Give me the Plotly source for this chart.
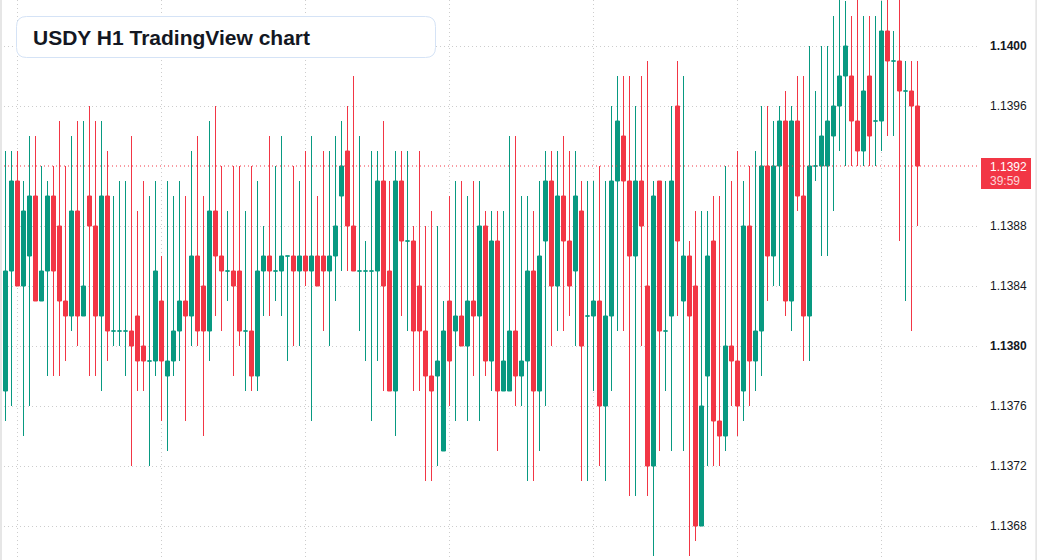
import plotly.graph_objects as go

# ---------------- data (USDY H1) ----------------
open_ = [1.1377, 1.1385, 1.1391, 1.1384, 1.1386, 1.1390, 1.1383, 1.1385, 1.1390, 1.1388,
         1.1383, 1.1382, 1.1389, 1.1382, 1.1390, 1.1388, 1.1382, 1.1390, 1.1381, 1.1381,
         1.1381, 1.1381, 1.1382, 1.1380, 1.1379, 1.1379, 1.1383, 1.1378, 1.1379, 1.1381,
         1.1383, 1.1382, 1.1386, 1.1384, 1.1381, 1.1389, 1.1386, 1.1385, 1.1385, 1.1385,
         1.1381, 1.1381, 1.1378, 1.1385, 1.1386, 1.1385, 1.1385, 1.1386, 1.1386, 1.1385,
         1.1386, 1.1385, 1.1386, 1.1386, 1.1385, 1.1386, 1.1390, 1.1393, 1.1388, 1.1385,
         1.1385, 1.1385, 1.1385, 1.1391, 1.1385, 1.1377, 1.1391, 1.1387, 1.1387, 1.1384,
         1.1381, 1.1378, 1.1378, 1.1373, 1.1383, 1.1381, 1.1382, 1.1380, 1.1383, 1.1382,
         1.1388, 1.1379, 1.1387, 1.1377, 1.1377, 1.1381, 1.1378, 1.1379, 1.1385, 1.1377,
         1.1387, 1.1391, 1.1384, 1.1390, 1.1387, 1.1385, 1.1389, 1.1382, 1.1382, 1.1383,
         1.1376, 1.1382, 1.1391, 1.1394, 1.1391, 1.1386, 1.1391, 1.1384, 1.1372, 1.1391,
         1.1381, 1.1382, 1.1396, 1.1383, 1.1386, 1.1384, 1.1368, 1.1378, 1.1387, 1.1375,
         1.1374, 1.1380, 1.1379, 1.1377, 1.1388, 1.1379, 1.1381, 1.1392, 1.1386, 1.1392,
         1.1395, 1.1383, 1.1395, 1.1390, 1.1382, 1.1392, 1.1392, 1.1392, 1.1394, 1.1396,
         1.1398, 1.1398, 1.1395, 1.1393, 1.1398, 1.1395, 1.1395, 1.1401, 1.1399, 1.1399,
         1.1397, 1.1397, 1.1396]

high = [1.1393, 1.1393, 1.1393, 1.1391, 1.1394, 1.1394, 1.1392, 1.1391, 1.1392, 1.1395,
        1.1392, 1.1394, 1.1395, 1.1395, 1.1396, 1.1395, 1.1395, 1.1393, 1.1390, 1.1391,
        1.1391, 1.1394, 1.1389, 1.1391, 1.1390, 1.1391, 1.1386, 1.1391, 1.1390, 1.1391,
        1.1390, 1.1393, 1.1394, 1.1390, 1.1395, 1.1396, 1.1392, 1.1389, 1.1392, 1.1392,
        1.1389, 1.1392, 1.1391, 1.1388, 1.1394, 1.1392, 1.1394, 1.1386, 1.1392, 1.1391,
        1.1393, 1.1394, 1.1390, 1.1393, 1.1393, 1.1394, 1.1395, 1.1396, 1.1398, 1.1394,
        1.1387, 1.1393, 1.1393, 1.1395, 1.1391, 1.1393, 1.1393, 1.1393, 1.1388, 1.1393,
        1.1388, 1.1389, 1.1388, 1.1383, 1.1390, 1.1391, 1.1391, 1.1390, 1.1391, 1.1391,
        1.1389, 1.1389, 1.1389, 1.1389, 1.1394, 1.1394, 1.1390, 1.1390, 1.1389, 1.1391,
        1.1393, 1.1393, 1.1393, 1.1394, 1.1393, 1.1393, 1.1391, 1.1391, 1.1391, 1.1392,
        1.1391, 1.1396, 1.1398, 1.1398, 1.1398, 1.1396, 1.1398, 1.1399, 1.1391, 1.1391,
        1.1391, 1.1396, 1.1399, 1.1398, 1.1387, 1.1389, 1.1389, 1.1389, 1.1390, 1.1390,
        1.1392, 1.1391, 1.1393, 1.1391, 1.1392, 1.1393, 1.1396, 1.1396, 1.1395, 1.1396,
        1.1397, 1.1396, 1.1398, 1.1398, 1.1400, 1.1397, 1.1400, 1.1400, 1.1402, 1.1404,
        1.1403, 1.1402, 1.1404, 1.1402, 1.1402, 1.1402, 1.1403, 1.1404, 1.1401, 1.1404,
        1.1399, 1.1399, 1.1399]

low = [1.1375, 1.1376, 1.1384, 1.1374, 1.1376, 1.1383, 1.1383, 1.1378, 1.1378, 1.1378,
       1.1379, 1.1381, 1.1380, 1.1382, 1.1378, 1.1378, 1.1377, 1.1379, 1.1380, 1.1380,
       1.1378, 1.1372, 1.1377, 1.1377, 1.1372, 1.1378, 1.1375, 1.1373, 1.1378, 1.1379,
       1.1375, 1.1380, 1.1380, 1.1374, 1.1379, 1.1382, 1.1381, 1.1383, 1.1378, 1.1380,
       1.1377, 1.1377, 1.1377, 1.1382, 1.1382, 1.1383, 1.1382, 1.1379, 1.1380, 1.1380,
       1.1384, 1.1375, 1.1384, 1.1381, 1.1380, 1.1383, 1.1385, 1.1385, 1.1385, 1.1381,
       1.1379, 1.1375, 1.1379, 1.1377, 1.1377, 1.1374, 1.1382, 1.1381, 1.1377, 1.1377,
       1.1371, 1.1371, 1.1372, 1.1373, 1.1376, 1.1375, 1.1380, 1.1375, 1.1378, 1.1375,
       1.1378, 1.1377, 1.1373, 1.1377, 1.1377, 1.1376, 1.1376, 1.1371, 1.1371, 1.1373,
       1.1376, 1.1380, 1.1381, 1.1381, 1.1382, 1.1380, 1.1371, 1.1371, 1.1377, 1.1372,
       1.1371, 1.1377, 1.1381, 1.1381, 1.1370, 1.1370, 1.1380, 1.1370, 1.1366, 1.1373,
       1.1377, 1.1373, 1.1382, 1.1373, 1.1366, 1.1367, 1.1368, 1.1372, 1.1372, 1.1372,
       1.1373, 1.1376, 1.1374, 1.1375, 1.1376, 1.1377, 1.1378, 1.1383, 1.1384, 1.1384,
       1.1382, 1.1381, 1.1389, 1.1379, 1.1379, 1.1391, 1.1386, 1.1386, 1.1389, 1.1393,
       1.1392, 1.1392, 1.1392, 1.1392, 1.1392, 1.1392, 1.1393, 1.1394, 1.1394, 1.1387,
       1.1383, 1.1381, 1.1388]

close = [1.1385, 1.1391, 1.1384, 1.1389, 1.1390, 1.1383, 1.1385, 1.1390, 1.1385, 1.1383,
         1.1382, 1.1389, 1.1382, 1.1384, 1.1388, 1.1382, 1.1390, 1.1381, 1.1381, 1.1381,
         1.1381, 1.1380, 1.1379, 1.1379, 1.1379, 1.1385, 1.1379, 1.1379, 1.1381, 1.1383,
         1.1382, 1.1386, 1.1381, 1.1381, 1.1389, 1.1386, 1.1385, 1.1385, 1.1384, 1.1381,
         1.1381, 1.1378, 1.1385, 1.1386, 1.1385, 1.1385, 1.1386, 1.1386, 1.1385, 1.1386,
         1.1385, 1.1386, 1.1384, 1.1385, 1.1386, 1.1388, 1.1392, 1.1388, 1.1385, 1.1385,
         1.1385, 1.1385, 1.1391, 1.1384, 1.1377, 1.1391, 1.1387, 1.1387, 1.1381, 1.1381,
         1.1378, 1.1377, 1.1379, 1.1381, 1.1379, 1.1382, 1.1380, 1.1383, 1.1382, 1.1388,
         1.1379, 1.1387, 1.1377, 1.1379, 1.1381, 1.1378, 1.1379, 1.1385, 1.1377, 1.1386,
         1.1391, 1.1384, 1.1390, 1.1387, 1.1384, 1.1390, 1.1380, 1.1382, 1.1383, 1.1376,
         1.1382, 1.1391, 1.1395, 1.1391, 1.1386, 1.1391, 1.1388, 1.1372, 1.1390, 1.1381,
         1.1381, 1.1391, 1.1387, 1.1386, 1.1382, 1.1368, 1.1376, 1.1386, 1.1375, 1.1374,
         1.1380, 1.1379, 1.1376, 1.1388, 1.1379, 1.1381, 1.1392, 1.1386, 1.1392, 1.1395,
         1.1383, 1.1395, 1.1390, 1.1382, 1.1392, 1.1392, 1.1394, 1.1395, 1.1396, 1.1398,
         1.1400, 1.1395, 1.1393, 1.1397, 1.1394, 1.1395, 1.1401, 1.1399, 1.1399, 1.1397,
         1.1397, 1.1396, 1.1392]

price_ticks = [1.1368, 1.1372, 1.1376, 1.1380, 1.1384, 1.1388, 1.1396, 1.1400]
bold_ticks = [1.1380, 1.1400]
day_starts = [2, 26, 50, 74, 98, 122, 146]
last_price = close[-1]
countdown = "39:59"
title_text = "USDY H1 TradingView chart"

# ---------------- styling ----------------
GREEN = "#089981"
RED = "#f23645"
GRID = "#cdcdcd"
TEXT = "#131722"
W, H = 1037, 560
MR = 57
PW = W - MR  # plot width in px


def px(x):
    return x / PW


def py(y):
    return 1 - y / H


idx = list(range(len(close)))
up = [i for i in idx if close[i] >= open_[i]]
dn = [i for i in idx if close[i] < open_[i]]

fig = go.Figure()
for sel, col in ((up, GREEN), (dn, RED)):
    fig.add_trace(go.Candlestick(
        x=sel,
        open=[open_[i] for i in sel],
        high=[high[i] for i in sel],
        low=[low[i] for i in sel],
        close=[close[i] for i in sel],
        increasing=dict(line=dict(color=col, width=1), fillcolor=col),
        decreasing=dict(line=dict(color=col, width=1), fillcolor=col),
        whiskerwidth=0,
        showlegend=False,
        hoverinfo="skip",
    ))

# rounded title box
x0, x1, y0, y1, r = 16.5, 435.5, 16.5, 57.5, 10
path = (f"M {px(x0 + r)},{py(y0)} L {px(x1 - r)},{py(y0)} Q {px(x1)},{py(y0)} {px(x1)},{py(y0 + r)} "
        f"L {px(x1)},{py(y1 - r)} Q {px(x1)},{py(y1)} {px(x1 - r)},{py(y1)} "
        f"L {px(x0 + r)},{py(y1)} Q {px(x0)},{py(y1)} {px(x0)},{py(y1 - r)} "
        f"L {px(x0)},{py(y0 + r)} Q {px(x0)},{py(y0)} {px(x0 + r)},{py(y0)} Z")

shapes = [
    # current price dotted line
    dict(type="line", xref="paper", yref="y", x0=0, x1=1, y0=last_price, y1=last_price,
         line=dict(color=RED, width=1, dash="1px,3px"), layer="above"),
    # price label box
    dict(type="rect", xref="paper", yref="paper", x0=px(981), x1=px(1031), y0=py(189), y1=py(158),
         fillcolor=RED, line=dict(width=0), layer="above"),
    # title box
    dict(type="path", xref="paper", yref="paper", path=path, fillcolor="white",
         line=dict(color="#d5e3f6", width=1), layer="above"),
    # left / right page borders
    dict(type="rect", xref="paper", yref="paper", x0=px(0), x1=px(2), y0=0, y1=1,
         fillcolor="#e6e6e6", line=dict(width=0), layer="above"),
    dict(type="rect", xref="paper", yref="paper", x0=px(1035.3), x1=px(1037), y0=0, y1=1,
         fillcolor="#e6e6e6", line=dict(width=0), layer="above"),
]

annotations = [
    dict(xref="paper", yref="paper", x=px(31), y=py(37.5), xanchor="left", yanchor="middle",
         text=f"<b>{title_text}</b>", showarrow=False,
         font=dict(family="Liberation Sans, Arial, sans-serif", size=21, color=TEXT)),
    dict(xref="paper", yref="paper", x=px(988), y=py(167), xanchor="left", yanchor="middle",
         text=f"{last_price:.4f}", showarrow=False,
         font=dict(family="Liberation Sans, Arial, sans-serif", size=12, color="white")),
    dict(xref="paper", yref="paper", x=px(988), y=py(181), xanchor="left", yanchor="middle",
         text=countdown, showarrow=False,
         font=dict(family="Liberation Sans, Arial, sans-serif", size=12, color="rgba(255,255,255,0.8)")),
]

ticktext = [f"<b>{v:.4f}</b>" if any(abs(v - b) < 1e-9 for b in bold_ticks) else f"{v:.4f}"
            for v in price_ticks]

x_lo = -5.5 / 6
x_hi = (PW - 5.5) / 6
y_top = 1.1400 + 46 / 15 * 0.0001
y_bot = y_top - H / 15 * 0.0001

fig.update_layout(
    width=W, height=H,
    margin=dict(l=0, r=MR, t=0, b=0, pad=0),
    paper_bgcolor="white", plot_bgcolor="white",
    boxgap=1 / 3, boxgroupgap=0,
    shapes=shapes, annotations=annotations,
    xaxis=dict(range=[x_lo, x_hi], tickvals=day_starts, showticklabels=False, ticks="",
               showgrid=True, gridcolor=GRID, griddash="1px,3px", gridwidth=1,
               zeroline=False, showline=False, rangeslider=dict(visible=False), fixedrange=True),
    yaxis=dict(range=[y_bot, y_top], side="right", tickvals=price_ticks, ticktext=ticktext,
               tickfont=dict(family="Liberation Sans, Arial, sans-serif", size=12, color=TEXT),
               showgrid=True, gridcolor=GRID, griddash="1px,3px", gridwidth=1,
               zeroline=False, showline=False, ticks="", ticklabelstandoff=9, fixedrange=True),
    showlegend=False,
)

fig.write_html("out.html")
